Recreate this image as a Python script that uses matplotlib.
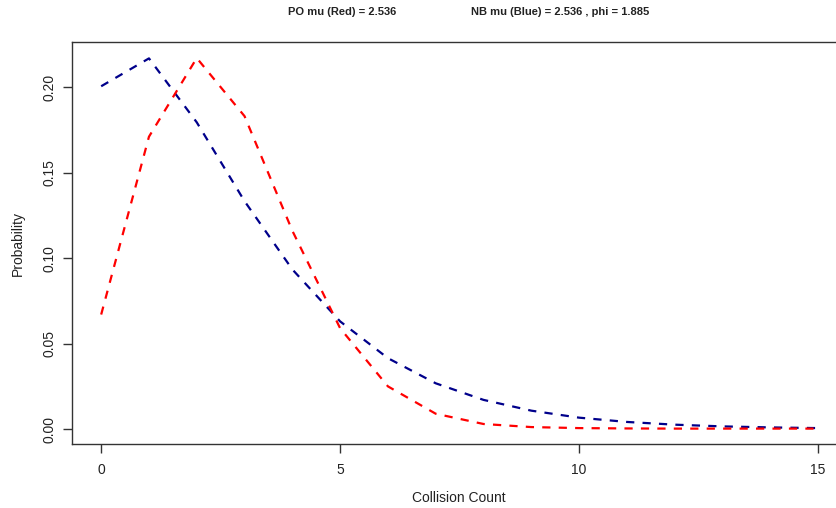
import matplotlib
matplotlib.use("Agg")
import matplotlib.pyplot as plt

counts = list(range(16))
po_prob = [0.067, 0.171, 0.217, 0.183, 0.116, 0.059, 0.025, 0.009, 0.003,
           0.0012, 0.0006, 0.0004, 0.0003, 0.0003, 0.0003, 0.0003]
nb_prob = [0.2005, 0.2168, 0.1794, 0.1333, 0.0934, 0.0630, 0.0415, 0.0268,
           0.0171, 0.0108, 0.0067, 0.0042, 0.0026, 0.0016, 0.0010, 0.0006]
xticks = [0, 5, 10, 15]
yticks = [0.00, 0.05, 0.10, 0.15, 0.20]

plt.rcParams['font.family'] = ['Liberation Sans', 'DejaVu Sans']

W, H = 837, 508
fig = plt.figure(figsize=(W / 100, H / 100), dpi=100)
left, right, top, bottom = 72.5, 846.7, 42.3, 444.0
ax = fig.add_axes([left / W, 1 - bottom / H, (right - left) / W, (bottom - top) / H])

ax.plot(counts, nb_prob, color='#00008B', lw=1.6, linestyle=(0, (3.7, 3.7)))
ax.plot(counts, po_prob, color='#FF0000', lw=1.6, linestyle=(0, (3.7, 3.7)))

ax.set_xlim(-0.6, 15.6)
ax.set_ylim(-0.0087, 0.2262)
ax.set_xticks(xticks)
ax.set_xticklabels([str(t) for t in xticks])
ax.set_yticks(yticks)
ax.set_yticklabels([f"{t:.2f}" for t in yticks], rotation=90, va='center')
for s in ['top', 'right', 'left', 'bottom']:
    ax.spines[s].set_color('#333333')
    ax.spines[s].set_linewidth(1.0)
ax.tick_params(axis='both', direction='out', length=6.5, width=1, color='#333333',
               labelsize=10, labelcolor='#222222')
ax.tick_params(axis='x', pad=7)
ax.tick_params(axis='y', pad=5)

fig.text(459 / W, 1 - 498 / H, "Collision Count", ha='center', va='center', fontsize=10, color='#222222')
fig.text(18 / W, 1 - 243 / H, "Probability", ha='center', va='center', rotation=90, fontsize=10, color='#222222')
fig.text(342 / W, 1 - 12 / H, "PO mu (Red) = 2.536", ha='center', va='center', fontsize=8, fontweight='bold', color='#222222')
fig.text(560 / W, 1 - 12 / H, "NB mu (Blue) = 2.536 , phi = 1.885", ha='center', va='center', fontsize=8, fontweight='bold', color='#222222')

fig.savefig("out.png", dpi=100)
